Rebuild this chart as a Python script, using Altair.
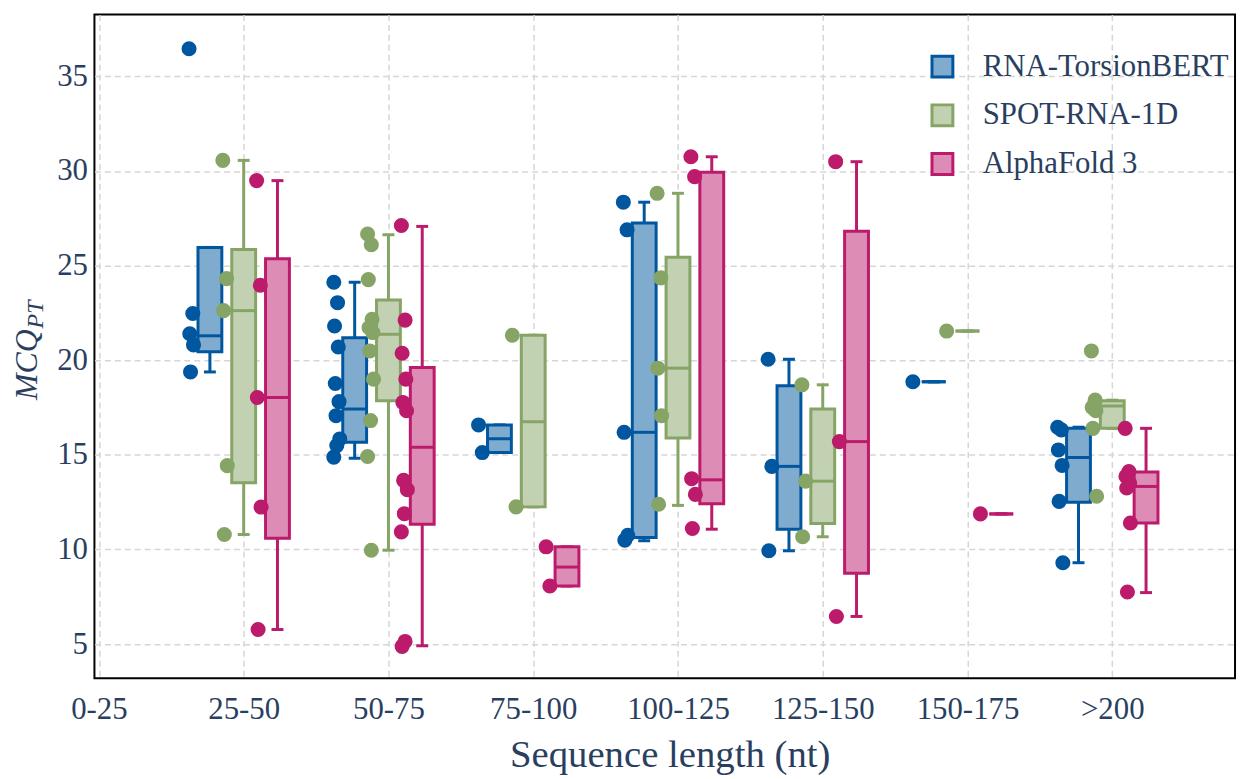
import json
import altair as alt
import pandas as pd

# ---------------- data ----------------
categories = ["0-25", "25-50", "50-75", "75-100", "100-125", "125-150", "150-175", ">200"]
box_categories = ["25-50", "50-75", "75-100", "100-125", "125-150", "150-175", ">200"]
models = ["RNA-TorsionBERT", "SPOT-RNA-1D", "AlphaFold 3"]
line_colors = ["#0057A0", "#86A466", "#BC1A6B"]
fill_colors = ["#7FABCF", "#C2D1B2", "#DD8CB5"]

# box statistics per model, aligned with box_categories
torsionbert_low = [19.38, 14.82, 15.12, 10.46, 9.93, 18.86, 9.30]
torsionbert_q1 = [20.45, 15.67, 15.12, 10.63, 11.07, 18.86, 12.49]
torsionbert_median = [21.29, 17.42, 15.85, 16.19, 14.39, 18.86, 14.86]
torsionbert_q3 = [25.96, 21.19, 16.58, 27.25, 18.65, 18.86, 16.40]
torsionbert_high = [25.96, 24.12, 16.58, 28.35, 20.05, 18.86, 16.46]

spot_low = [10.79, 9.96, 12.25, 12.33, 10.67, 21.54, 16.40]
spot_q1 = [13.53, 17.86, 12.25, 15.89, 11.37, 21.54, 16.40]
spot_median = [22.62, 21.37, 16.75, 19.58, 13.61, 21.54, 17.58]
spot_q3 = [25.85, 23.18, 21.32, 25.44, 17.42, 21.54, 17.86]
spot_high = [30.56, 26.63, 21.32, 28.82, 18.70, 21.54, 17.89]

af3_low = [5.77, 4.91, 8.07, 11.07, 6.46, 11.88, 7.72]
af3_q1 = [10.59, 11.33, 8.07, 12.42, 8.74, 11.88, 11.40]
af3_median = [18.03, 15.40, 9.07, 13.68, 15.70, 11.88, 13.33]
af3_q3 = [25.36, 19.61, 10.14, 29.93, 26.81, 11.88, 14.09]
af3_high = [29.49, 27.07, 10.14, 30.75, 30.49, 11.88, 16.40]

# individual points per model, aligned with box_categories
torsionbert_points = [
    [36.46, 22.47, 21.40, 20.81, 19.38],
    [24.12, 23.04, 21.81, 20.70, 18.77, 17.81, 17.07, 15.84, 15.49, 14.88],
    [16.58, 15.12],
    [28.35, 26.89, 16.19, 10.75, 10.49],
    [20.05, 14.39, 9.93],
    [18.86],
    [16.46, 16.32, 15.26, 14.44, 12.54, 9.30],
]
spot_points = [
    [30.56, 24.31, 22.62, 14.43, 10.79],
    [26.67, 26.10, 24.26, 22.16, 21.72, 21.46, 20.49, 19.00, 16.81, 14.91, 9.96],
    [21.32, 12.25],
    [28.82, 24.35, 19.58, 17.07, 12.39],
    [18.70, 13.61, 10.67],
    [21.54],
    [20.49, 17.89, 17.51, 17.33, 16.40, 12.81],
]
af3_points = [
    [29.49, 23.96, 18.03, 12.24, 5.77],
    [27.12, 22.12, 20.37, 19.00, 17.77, 17.33, 13.65, 13.16, 11.89, 10.93, 5.14, 4.88],
    [10.14, 8.07],
    [30.75, 29.70, 13.74, 12.91, 11.11],
    [30.49, 15.70, 6.46],
    [11.88],
    [16.40, 14.12, 13.86, 13.51, 13.25, 11.40, 7.75],
]

# ---------------- layout helpers ----------------
W, H = 1148, 668
X_DOM = [-0.031, 7.848]
Y_DOM = [3.2, 38.27]
PX = W / (X_DOM[1] - X_DOM[0])  # pixels per category unit


def u(px):
    return px / PX


group_offsets = [u(-34), 0.0, u(34)]
BOX_HALF = u(12)
CAP_HALF = u(6)
POINT_SHIFT = u(-18)

stats = {
    models[0]: (torsionbert_low, torsionbert_q1, torsionbert_median, torsionbert_q3, torsionbert_high, torsionbert_points),
    models[1]: (spot_low, spot_q1, spot_median, spot_q3, spot_high, spot_points),
    models[2]: (af3_low, af3_q1, af3_median, af3_q3, af3_high, af3_points),
}

box_rows, pt_rows = [], []
for mi, m in enumerate(models):
    lo, q1, med, q3, hi, pts = stats[m]
    for ci, cat in enumerate(box_categories):
        xi = categories.index(cat)
        xc = xi + group_offsets[mi]
        box_rows.append(dict(model=m, dark=line_colors[mi], cat=cat, xc=xc,
                             xl=xc - BOX_HALF, xr=xc + BOX_HALF,
                             cl=xc - CAP_HALF, cr=xc + CAP_HALF,
                             low=lo[ci], q1=q1[ci], median=med[ci], q3=q3[ci], high=hi[ci]))
        for k, v in enumerate(pts[ci]):
            jit = (((k * 5) % 9) - 4) * 0.75
            pt_rows.append(dict(model=m, dark=line_colors[mi], cat=cat,
                                xp=xc + POINT_SHIFT + u(jit), value=v))

box_df = pd.DataFrame(box_rows)
pt_df = pd.DataFrame(pt_rows)

FONT = "Liberation Serif"
TXT = "#2a3f5f"

x_scale = alt.Scale(domain=X_DOM, nice=False, zero=False)
y_scale = alt.Scale(domain=Y_DOM, nice=False, zero=False)
fill_scale = alt.Scale(domain=models, range=fill_colors)
stroke_scale = alt.Scale(domain=models, range=line_colors)

label_expr = json.dumps(categories) + "[round(datum.value)]"


def x_axis():
    return alt.Axis(values=list(range(len(categories))), labelExpr=label_expr,
                    title="Sequence length (nt)", labelBaseline="alphabetic", labelPadding=41,
                    titleFontSize=39, titleBaseline="alphabetic", titleY=89, titleX=W / 2 + 5,
                    titleFontWeight="normal")


def y_axis():
    return alt.Axis(values=[5, 10, 15, 20, 25, 30, 35], title=None, labelPadding=7)


def X(f):
    return alt.X(f, scale=x_scale, axis=x_axis())


def Y(f):
    return alt.Y(f, scale=y_scale, axis=y_axis())


dark_stroke = alt.Stroke("dark:N", scale=None)

layers = []
for mi, m in enumerate(models):
    bsrc = alt.Chart(box_df).transform_filter(alt.datum.model == m)
    psrc = alt.Chart(pt_df).transform_filter(alt.datum.model == m)

    whisk = bsrc.mark_rule(strokeWidth=3).encode(
        x=X("xc:Q"), y=Y("low:Q"), y2="high:Q", stroke=dark_stroke,
    )
    caps = bsrc.transform_fold(["low", "high"], as_=["end", "yv"]).mark_rule(strokeWidth=3).encode(
        x=X("cl:Q"), x2="cr:Q", y=Y("yv:Q"), stroke=dark_stroke,
    )
    box = bsrc.mark_rect(strokeWidth=3).encode(
        x=X("xl:Q"), x2="xr:Q", y=Y("q1:Q"), y2="q3:Q",
        fill=alt.Fill("model:N", scale=fill_scale, title=None),
        stroke=alt.Stroke("model:N", scale=stroke_scale, title=None),
    )
    med = bsrc.mark_rule(strokeWidth=3).encode(
        x=X("xl:Q"), x2="xr:Q", y=Y("median:Q"), stroke=dark_stroke,
    )
    pts = psrc.mark_circle(size=230, opacity=1).encode(
        x=X("xp:Q"), y=Y("value:Q"), fill=alt.Fill("dark:N", scale=None),
    )
    layers += [whisk, caps, box, med, pts]

ytitle = alt.Chart(alt.Data(values=[{"t": "MCQ"}])).mark_text(
    angle=270, align="left", baseline="alphabetic", font=FONT, fontStyle="italic",
    fontSize=32, color=TXT).encode(text="t:N", x=alt.value(-58), y=alt.value(388))
ysub = alt.Chart(alt.Data(values=[{"t": "PT"}])).mark_text(
    angle=270, align="left", baseline="alphabetic", font=FONT, fontStyle="italic",
    fontSize=24, color=TXT).encode(text="t:N", x=alt.value(-52), y=alt.value(316))
layers += [ytitle, ysub]

chart = alt.layer(*layers).properties(
    width=W, height=H,
    padding={"left": 87, "top": 4, "right": 5, "bottom": 99},
    autosize=alt.AutoSizeParams(type="none"),
    background="white",
).configure_view(
    stroke="black", strokeWidth=2
).configure_axis(
    grid=True, gridColor="#d6d6d6", gridDash=[6, 4], gridWidth=1.5,
    domain=False, ticks=False, tickSize=0,
    labelFont=FONT, labelFontSize=31, labelColor=TXT,
    titleFont=FONT, titleColor=TXT,
).configure_legend(
    orient="none", legendX=838, legendY=37, padding=0,
    symbolType="square", symbolSize=441, symbolStrokeWidth=3,
    labelFont=FONT, labelFontSize=31, labelColor=TXT, labelOffset=25,
    labelLimit=0, rowPadding=16,
)

chart.save("out.html", embed_options={"renderer": "svg", "actions": False})
